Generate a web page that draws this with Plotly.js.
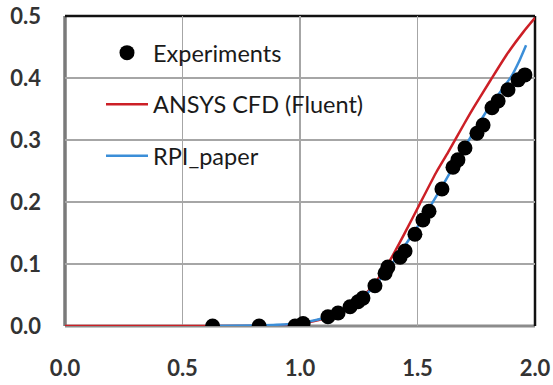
<!DOCTYPE html>
<html>
<head>
<meta charset="utf-8">
<script src="https://cdn.plot.ly/plotly-3.0.1.min.js"></script>
<style>html,body{margin:0;padding:0;background:#fff;}#chart{width:553px;height:385px;}</style>
</head>
<body>
<div id="chart"></div>
<script>
// Experiments
const expX = [0.628, 0.826, 0.979, 1.013, 1.119, 1.162, 1.213, 1.247, 1.268, 1.319, 1.362, 1.374, 1.426, 1.447, 1.489, 1.523, 1.549, 1.604, 1.651, 1.672, 1.702, 1.753, 1.779, 1.817, 1.843, 1.885, 1.928, 1.957];
const expY = [0.000, 0.000, 0.000, 0.004, 0.015, 0.021, 0.031, 0.039, 0.045, 0.065, 0.085, 0.095, 0.111, 0.121, 0.148, 0.171, 0.185, 0.221, 0.256, 0.268, 0.287, 0.311, 0.324, 0.352, 0.363, 0.381, 0.397, 0.405];
// ANSYS CFD (Fluent)
const cfdX = [0.0, 0.5, 0.8, 0.9, 1.0, 1.1, 1.2, 1.3, 1.38, 1.45, 1.51, 1.58, 1.63, 1.70, 1.74, 1.81, 1.88, 1.95, 2.0];
const cfdY = [0.0, 0.0, 0.0, 0.001, 0.004, 0.012, 0.029, 0.060, 0.104, 0.153, 0.197, 0.248, 0.280, 0.327, 0.353, 0.396, 0.438, 0.474, 0.497];
// RPI_paper
const rpiX = [0.6, 0.8, 0.9, 1.0, 1.1, 1.2, 1.3, 1.4, 1.5, 1.6, 1.7, 1.8, 1.9, 1.93, 1.962];
const rpiY = [0.0, 0.001, 0.002, 0.005, 0.013, 0.028, 0.058, 0.105, 0.160, 0.222, 0.288, 0.350, 0.403, 0.425, 0.453];

const xTicks = [0.0, 0.5, 1.0, 1.5, 2.0];
const xTickText = ['0.0', '0.5', '1.0', '1.5', '2.0'];
const yTicks = [0.0, 0.1, 0.2, 0.3, 0.4, 0.5];
const yTickText = ['0.0', '0.1', '0.2', '0.3', '0.4', '0.5'];

const FONT = 'Lato, "Open Sans", sans-serif';

const traces = [
  {x: cfdX, y: cfdY, mode: 'lines', name: 'ANSYS CFD (Fluent)', legendgroup: 'b', legendrank: 2,
   line: {color: '#cc1f26', width: 2.5, shape: 'spline', smoothing: 0.6}},
  {x: rpiX, y: rpiY, mode: 'lines', name: 'RPI_paper', legendgroup: 'c', legendrank: 3,
   line: {color: '#3b8ed8', width: 2.5, shape: 'spline', smoothing: 0.6}},
  {x: expX, y: expY, mode: 'markers', name: 'Experiments', legendgroup: 'a', legendrank: 1,
   marker: {color: '#000', size: 15}}
];

const layout = {
  width: 553, height: 385,
  margin: {l: 65, r: 18, t: 16, b: 59},
  paper_bgcolor: '#fff', plot_bgcolor: '#fff',
  font: {family: FONT, size: 20, color: '#262626'},
  showlegend: true,
  legend: {x: 0.0766, y: 0.952, xanchor: 'left', yanchor: 'top', bgcolor: 'rgba(0,0,0,0)',
           itemwidth: 42, tracegroupgap: 18, font: {family: FONT, size: 23.5, color: '#1a1a1a'}},
  xaxis: {range: [0, 2], tickvals: xTicks, ticktext: xTickText, showgrid: true,
          gridcolor: '#a6a6a6', gridwidth: 1.5, zeroline: false, showline: false,
          ticks: '', ticklabelstandoff: 27, tickfont: {family: FONT, size: 22, color: '#333', weight: 'bold'},
          fixedrange: true},
  yaxis: {range: [0, 0.5], tickvals: yTicks, ticktext: yTickText, showgrid: true,
          gridcolor: '#a6a6a6', gridwidth: 1.5, zeroline: false, showline: false,
          ticks: '', ticklabelstandoff: 23, tickfont: {family: FONT, size: 22, color: '#333', weight: 'bold'},
          fixedrange: true},
  shapes: [
    {type: 'line', xref: 'paper', yref: 'paper', x0: 0, x1: 1, y0: 0, y1: 0, line: {color: '#8c8c8c', width: 3}, layer: 'below'},
    {type: 'line', xref: 'paper', yref: 'paper', x0: 0, x1: 0, y0: 0, y1: 1, line: {color: '#7a7a7a', width: 3.5}, layer: 'below'},
    {type: 'line', xref: 'paper', yref: 'paper', x0: 0, x1: 1, y0: 1, y1: 1, line: {color: '#111', width: 2.5}, layer: 'below'},
    {type: 'line', xref: 'paper', yref: 'paper', x0: 1, x1: 1, y0: 0, y1: 1, line: {color: '#111', width: 2.5}, layer: 'below'}
  ]
};

Plotly.newPlot('chart', traces, layout, {displayModeBar: false, staticPlot: true});
</script>
</body>
</html>
